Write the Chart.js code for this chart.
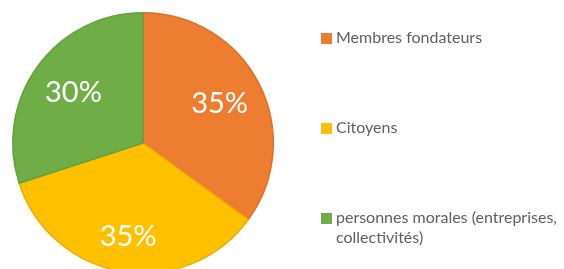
<!DOCTYPE html>
<html>
<head>
<meta charset="utf-8">
<script src="https://cdn.jsdelivr.net/npm/chart.js@4"></script>
<style>
  html, body { margin: 0; padding: 0; background: #fff; overflow: hidden; }
  #wrap { width: 564px; height: 282px; position: relative; }
</style>
</head>
<body>
<div id="wrap"><canvas id="pieChart"></canvas></div>
<script>
const categories = ['Membres fondateurs', 'Citoyens', ['personnes morales (entreprises,', 'collectivités)']];
const shares = [35, 35, 30];
const fills = ['#ED7D31', '#FFC000', '#70AD47'];
const edges = ['#D8702B', '#E8AE00', '#64A03E'];

// percentages drawn inside each slice
const sliceLabels = {
    id: 'sliceLabels',
    afterDatasetsDraw(chart) {
        const ctx = chart.ctx;
        const total = shares.reduce((a, b) => a + b, 0);
        ctx.save();
        ctx.fillStyle = '#fff';
        ctx.font = '29px Lato, "Noto Sans", sans-serif';
        ctx.textAlign = 'center';
        ctx.textBaseline = 'middle';
        chart.getDatasetMeta(0).data.forEach((arc, i) => {
            const mid = (arc.startAngle + arc.endAngle) / 2;
            const r = arc.outerRadius * (i === 1 ? 0.73 : 0.66);
            const x = arc.x + Math.cos(mid) * r;
            const y = arc.y + Math.sin(mid) * r;
            ctx.fillText(Math.round(shares[i] / total * 100) + '%', x, y);
        });
        ctx.restore();
    }
};

// legend on the right, one entry per slice
const sideLegend = {
    id: 'sideLegend',
    afterDraw(chart) {
        const ctx = chart.ctx;
        ctx.save();
        ctx.font = '16px Lato, "Noto Sans", sans-serif';
        ctx.textBaseline = 'middle';
        categories.forEach((cat, i) => {
            const lines = Array.isArray(cat) ? cat : [cat];
            const y = 38 + i * 90;
            ctx.fillStyle = fills[i];
            ctx.fillRect(321, y - 5, 11, 11);
            ctx.fillStyle = '#5f5f5f';
            lines.forEach((line, j) => ctx.fillText(line, 336, y + j * 20));
        });
        ctx.restore();
    }
};

new Chart(document.getElementById('pieChart'), {
    type: 'pie',
    data: {
        labels: categories.map(c => Array.isArray(c) ? c.join(' ') : c),
        datasets: [{
            data: shares,
            backgroundColor: fills,
            borderColor: edges,
            borderWidth: 1.5
        }]
    },
    options: {
        responsive: true,
        maintainAspectRatio: false,
        animation: false,
        layout: { padding: { left: 12, right: 290, top: 12, bottom: 8 } },
        plugins: {
            legend: { display: false },
            tooltip: { enabled: false }
        }
    },
    plugins: [sliceLabels, sideLegend]
});
</script>
</body>
</html>
